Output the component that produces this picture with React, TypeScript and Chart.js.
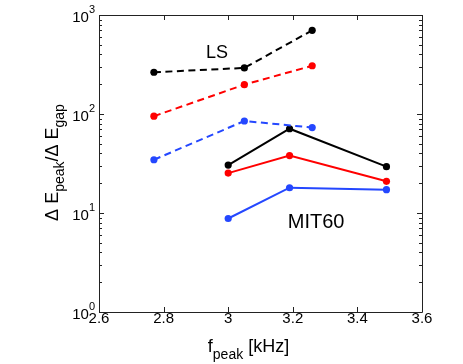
import React, { useEffect, useRef } from 'react';
import { Chart, registerables } from 'chart.js';

Chart.register(...registerables);

// ---- data ----
const lsFreq = [2.77, 3.05, 3.26];
const lsBlack = [264, 292, 700];
const lsRed = [95, 198, 307];
const lsBlue = [34.5, 85, 73];

const mitFreq = [3.0, 3.19, 3.49];
const mitBlack = [30.5, 71, 29.4];
const mitRed = [25.3, 38, 20.9];
const mitBlue = [8.8, 18, 17.2];

const xTicks = [2.6, 2.8, 3.0, 3.2, 3.4, 3.6];
const xTickLabels = ['2.6', '2.8', '3', '3.2', '3.4', '3.6'];
const yDecades = [1, 10, 100, 1000];
const yExponents = ['0', '1', '2', '3'];

// text annotations anchored in data coordinates (x, y = baseline)
const annoText = ['LS', 'MIT60'];
const annoX = [2.965, 3.272];
const annoY = [368, 7.05];
const annoSize = [18, 20];

const FONT = '"Liberation Sans", Arial, Helvetica, sans-serif';
const BLACK = '#000000';
const RED = '#ff0000';
const BLUE = '#2447ff';

type Part = { t: string; s: number; dy: number };

function drawRuns(ctx: CanvasRenderingContext2D, x: number, y: number, parts: Part[]) {
  let cx = x;
  for (const p of parts) {
    ctx.font = `${p.s}px ${FONT}`;
    ctx.fillText(p.t, cx, y + p.dy);
    cx += ctx.measureText(p.t).width;
  }
}

function runsWidth(ctx: CanvasRenderingContext2D, parts: Part[]) {
  let w = 0;
  for (const p of parts) {
    ctx.font = `${p.s}px ${FONT}`;
    w += ctx.measureText(p.t).width;
  }
  return w;
}

const axesPlugin = {
  id: 'matlabAxes',
  afterDraw(chart: any) {
    const ctx: CanvasRenderingContext2D = chart.ctx;
    const { left, right, top, bottom } = chart.chartArea;
    const xs = chart.scales.x;
    const ys = chart.scales.y;
    ctx.save();
    ctx.strokeStyle = '#222';
    ctx.lineWidth = 1;
    // box
    ctx.beginPath();
    ctx.rect(Math.round(left) + 0.5, Math.round(top) + 0.5, Math.round(right - left), Math.round(bottom - top));
    ctx.stroke();

    // x ticks (bottom + top, inward)
    ctx.beginPath();
    for (const v of xTicks) {
      const px = Math.round(xs.getPixelForValue(v)) + 0.5;
      ctx.moveTo(px, bottom);
      ctx.lineTo(px, bottom - 5);
      ctx.moveTo(px, top);
      ctx.lineTo(px, top + 5);
    }
    // y ticks major + minor (left + right, inward)
    for (let i = 0; i < yDecades.length; i++) {
      const d = yDecades[i];
      const py = Math.round(ys.getPixelForValue(d)) + 0.5;
      ctx.moveTo(left, py);
      ctx.lineTo(left + 5, py);
      ctx.moveTo(right, py);
      ctx.lineTo(right - 5, py);
      if (i < yDecades.length - 1) {
        for (let m = 2; m <= 9; m++) {
          const pm = Math.round(ys.getPixelForValue(d * m)) + 0.5;
          ctx.moveTo(left, pm);
          ctx.lineTo(left + 3, pm);
          ctx.moveTo(right, pm);
          ctx.lineTo(right - 3, pm);
        }
      }
    }
    ctx.stroke();

    ctx.fillStyle = '#000';
    ctx.textBaseline = 'alphabetic';
    // x tick labels
    ctx.font = `15px ${FONT}`;
    ctx.textAlign = 'center';
    for (let i = 0; i < xTicks.length; i++) {
      const px = xs.getPixelForValue(xTicks[i]);
      ctx.fillText(xTickLabels[i], px, bottom + 11);
    }
    // y tick labels 10^n
    ctx.textAlign = 'left';
    for (let i = 0; i < yDecades.length; i++) {
      const py = ys.getPixelForValue(yDecades[i]);
      const parts: Part[] = [
        { t: '10', s: 15, dy: 7 },
        { t: yExponents[i], s: 11, dy: -2 },
      ];
      const w = runsWidth(ctx, parts);
      drawRuns(ctx, left - 4 - w, py, parts);
    }

    // x title
    const xParts: Part[] = [
      { t: 'f', s: 18, dy: 0 },
      { t: 'peak', s: 14, dy: 7 },
      { t: ' [kHz]', s: 18, dy: 0 },
    ];
    const xw = runsWidth(ctx, xParts);
    drawRuns(ctx, (left + right) / 2 - xw / 2 - 12, bottom + 40, xParts);

    // y title (rotated)
    const yParts: Part[] = [
      { t: '\u0394 E', s: 18, dy: 0 },
      { t: 'peak', s: 14, dy: 6 },
      { t: '/\u0394 E', s: 18, dy: 0 },
      { t: 'gap', s: 14, dy: 6 },
    ];
    const yw = runsWidth(ctx, yParts);
    ctx.save();
    ctx.translate(58, (top + bottom) / 2 - 1 + yw / 2);
    ctx.rotate(-Math.PI / 2);
    drawRuns(ctx, 0, 0, yParts);
    ctx.restore();

    // annotations
    ctx.textAlign = 'center';
    for (let i = 0; i < annoText.length; i++) {
      ctx.font = `${annoSize[i]}px ${FONT}`;
      ctx.fillText(annoText[i], xs.getPixelForValue(annoX[i]), ys.getPixelForValue(annoY[i]));
    }
    ctx.restore();
  },
};

function series(xv: number[], yv: number[], color: string, dashed: boolean) {
  return {
    data: xv.map((x, i) => ({ x, y: yv[i] })),
    borderColor: color,
    backgroundColor: color,
    borderWidth: 2,
    borderDash: dashed ? [7, 4.5] : [],
    pointRadius: 3.6,
    pointBorderWidth: 0,
    pointBackgroundColor: color,
    pointHoverRadius: 3.6,
    tension: 0,
    fill: false,
  };
}

export default function App() {
  const ref = useRef<HTMLCanvasElement>(null);
  useEffect(() => {
    if (!ref.current) return;
    const chart = new Chart(ref.current, {
      type: 'line',
      data: {
        datasets: [
          series(lsFreq, lsBlack, BLACK, true),
          series(lsFreq, lsRed, RED, true),
          series(lsFreq, lsBlue, BLUE, true),
          series(mitFreq, mitBlack, BLACK, false),
          series(mitFreq, mitRed, RED, false),
          series(mitFreq, mitBlue, BLUE, false),
        ] as any,
      },
      options: {
        animation: false,
        responsive: false,
        devicePixelRatio: 1,
        layout: { padding: { left: 99, top: 15, right: 41, bottom: 52 } },
        plugins: { legend: { display: false }, tooltip: { enabled: false } },
        events: [],
        scales: {
          x: { type: 'linear', min: 2.6, max: 3.6, display: false },
          y: { type: 'logarithmic', min: 1, max: 1000, display: false },
        },
      },
      plugins: [axesPlugin],
    });
    return () => chart.destroy();
  }, []);
  return (
    <div style={{ position: 'fixed', left: 0, top: 0, width: 463, height: 364, background: '#fff' }}>
      <canvas ref={ref} width={463} height={364} style={{ display: 'block' }} />
    </div>
  );
}
